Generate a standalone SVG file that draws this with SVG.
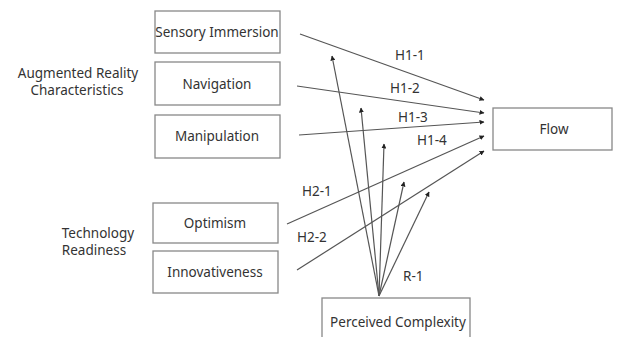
<svg xmlns="http://www.w3.org/2000/svg" width="617" height="337" viewBox="0 0 617 337">
<style>
text{font-family:"Noto Sans","Open Sans",sans-serif;font-size:13.5px;fill:#333}
.box{fill:#fff;stroke:#888;stroke-width:1.3}
.c{text-anchor:middle}
.ln{stroke:#555;stroke-width:1.2;fill:none;marker-end:url(#ah)}
</style>
<defs>
<marker id="ah" viewBox="0 0 10 10" refX="9" refY="5" markerWidth="5" markerHeight="5" orient="auto" markerUnits="userSpaceOnUse">
<path d="M0,0 L10,5 L0,10 z" fill="#222"/>
</marker>
</defs>
<rect width="617" height="337" fill="#fff"/>
<g id="label-ar">
<text class="c" x="78" y="78">Augmented Reality</text>
<text class="c" x="77" y="95">Characteristics</text>
</g>
<g id="label-tr">
<text class="c" x="98" y="238">Technology</text>
<text class="c" x="94" y="255">Readiness</text>
</g>
<g id="sensory"><rect class="box" x="155" y="11" width="125" height="42"/><text class="c" x="217" y="37">Sensory Immersion</text></g>
<g id="navigation"><rect class="box" x="155" y="62" width="125" height="43"/><text class="c" x="217" y="89">Navigation</text></g>
<g id="manipulation"><rect class="box" x="155" y="115" width="125" height="43"/><text class="c" x="217" y="141">Manipulation</text></g>
<g id="optimism"><rect class="box" x="153" y="203" width="125" height="40"/><text class="c" x="215" y="228">Optimism</text></g>
<g id="innovativeness"><rect class="box" x="153" y="251" width="125" height="42"/><text class="c" x="215" y="277">Innovativeness</text></g>
<g id="flow"><rect class="box" x="493" y="108" width="119" height="42"/><text class="c" x="554" y="134">Flow</text></g>
<g id="complexity"><rect class="box" x="322" y="298" width="148" height="50"/><text class="c" x="398" y="327">Perceived Complexity</text></g>
<g id="connectors">
<line class="ln" x1="300" y1="34" x2="484" y2="100"/>
<line class="ln" x1="297" y1="86" x2="484" y2="113"/>
<line class="ln" x1="299" y1="135" x2="484" y2="122"/>
<line class="ln" x1="287" y1="224" x2="484" y2="136"/>
<line class="ln" x1="297" y1="270" x2="484" y2="151"/>
<line class="ln" x1="379" y1="296" x2="332" y2="56"/>
<line class="ln" x1="379" y1="296" x2="361" y2="108"/>
<line class="ln" x1="379" y1="296" x2="384" y2="144"/>
<line class="ln" x1="379" y1="296" x2="404" y2="182"/>
<line class="ln" x1="379" y1="296" x2="429" y2="192"/>
<text x="395" y="60">H1-1</text>
<text x="390" y="93">H1-2</text>
<text x="398" y="122">H1-3</text>
<text x="417" y="145">H1-4</text>
<text x="302" y="196">H2-1</text>
<text x="297" y="242">H2-2</text>
<text x="403" y="281">R-1</text>
</g>
</svg>
